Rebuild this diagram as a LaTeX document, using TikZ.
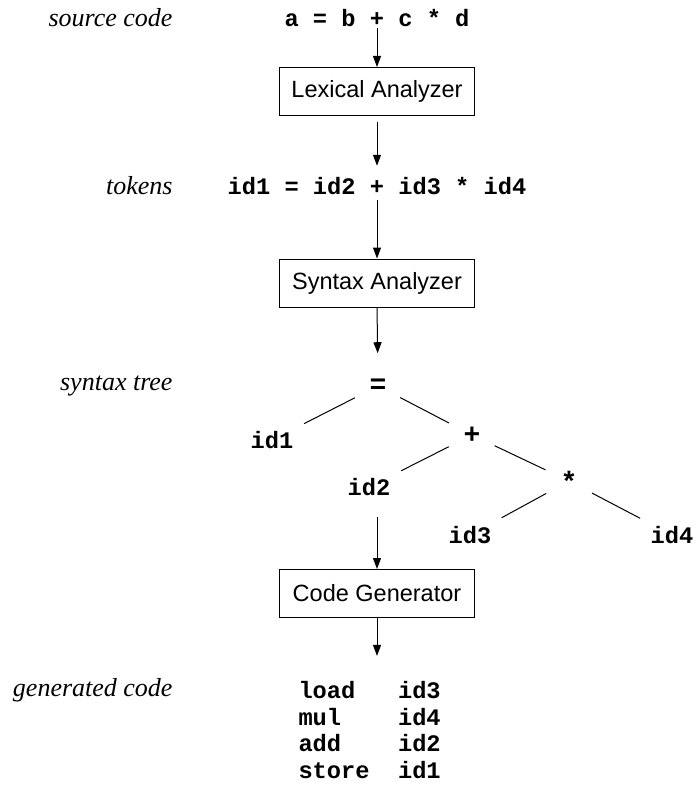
\documentclass[tikz,border=0pt]{standalone}
\usepackage{fontspec}
\setmainfont{Liberation Serif}
\setsansfont{Liberation Sans}
\setmonofont{Liberation Mono}
\usetikzlibrary{positioning,arrows.meta}

\begin{document}
\begin{tikzpicture}[x=1pt,y=-1pt,line width=1pt,node distance=2cm and 2cm,
  phase/.style={draw,minimum width=195pt,minimum height=48pt,inner sep=0pt,font=\fontsize{23.5}{28}\sffamily},
  code/.style={inner sep=1pt,font=\fontsize{23.7}{26.6}\ttfamily\bfseries},
  oper/.style={inner sep=1pt,font=\fontsize{28}{30}\ttfamily\bfseries},
  caption/.style={anchor=east,inner sep=0pt,font=\fontsize{26}{30}\itshape},
  flow/.style={-{Triangle[length=11pt,width=8pt]}},
  twig/.style={shorten <=25pt,shorten >=26pt},
  leafedge/.style={shorten <=26pt,shorten >=36pt}]
\useasboundingbox (0,0) rectangle (696,786);
% main column
\node[code] (src) at (377,18) {a = b + c * d};
\node[phase] (lex) at (377,91.5) {Lexical Analyzer};
\node[code] (tok) at (377,186) {id1 = id2 + id3 * id4};
\node[phase] (syn) at (377,283) {Syntax Analyzer};
\node[oper] (eq) at (378,386) {=};
\node[code] (id1) at (272,440) {id1};
\node[oper] (plus) at (472,435) {+};
\node[code] (id2) at (369,487) {id2};
\node[oper] (star) at (569,481) {*};
\node[code] (id3) at (470,535) {id3};
\node[code] (id4) at (672,535) {id4};
\node[phase] (gen) at (377,593.5) {Code Generator};
\node[code,anchor=west,align=left] (asm) at (297,730)
  {load\ \ \ id3\\mul\ \ \ \ id4\\add\ \ \ \ id2\\store\ \ id1};
% captions
\node[caption] (c1) at (173,18) {source code};
\node[caption] (c2) at (173,186) {tokens};
\node[caption] (c3) at (173,386) {syntax tree};
\node[caption] (c4) at (173,690) {generated code};
% arrows
\draw[flow] (src) -- (lex);
\draw[flow,shorten <=6pt,shorten >=10pt] (lex) -- (tok);
\draw[flow,shorten <=4pt] (tok) -- (syn);
\draw[flow,shorten >=24pt] (syn.south) -- (eq.north);
\draw[flow,shorten <=20pt] (id2.south -| gen.north) -- (gen.north);
\draw[flow,shorten >=24pt] (gen.south) -- (gen.south |- asm.north);
% tree
\draw[leafedge] (eq.center) -- (id1.center);
\draw[twig] (eq.center) -- (plus.center);
\draw[leafedge] (plus.center) -- (id2.center);
\draw[twig] (plus.center) -- (star.center);
\draw[leafedge] (star.center) -- (id3.center);
\draw[leafedge] (star.center) -- (id4.center);
\end{tikzpicture}
\end{document}
